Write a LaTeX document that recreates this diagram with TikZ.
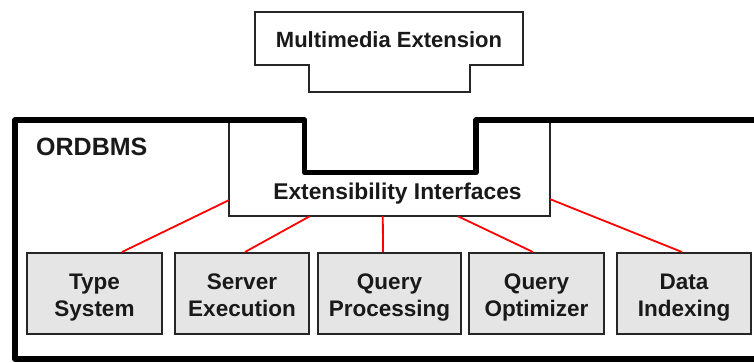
\documentclass[tikz,border=0pt]{standalone}
\usepackage{fontspec}
\setmainfont{Liberation Sans}
% equal line boxes for the two-line component labels
\newcommand\partTop{\rule{0pt}{24pt}}
\newcommand\partBot{\rule[-6pt]{0pt}{6pt}}
\begin{document}
\begin{tikzpicture}[x=1pt,y=-1pt,
  txt/.style={font=\bfseries\fontsize{22}{27}\selectfont, text=black!90, inner sep=0pt},
  part/.style={draw=black!85, line width=2pt, fill=black!10, minimum height=81pt,
    align=center, font=\bfseries\fontsize{22.5}{27}\selectfont, text=black!90, inner sep=0pt},
  frame/.style={line width=5.5pt, line join=round, black},
  link/.style={red, line width=1.8pt}]
\clip (0,0) rectangle (754,362);
\fill[white] (0,0) rectangle (754,362);

% extension module with its plug-in tab
\draw[black!85, line width=2pt, fill=white]
  (255,12) -- (523,12) -- (523,65) -- (470,65) -- (470,92) -- (309,92) -- (309,65) -- (255,65) -- cycle;
\node[txt, anchor=base] (mm) at (389,47) {Multimedia Extension};

% extensibility interfaces (top side formed by the socket of the frame)
\node[minimum width=321pt, minimum height=96pt, inner sep=0pt, fill=white] (ext) at (389.5,168) {};
\draw[black!85, line width=1.5pt] (ext.north west) |- (ext.south east) -- (ext.north east);
\node[txt, font=\bfseries\fontsize{22.8}{27}\selectfont, anchor=base] (exttxt) at (397.5,199) {Extensibility Interfaces};

% ORDBMS frame with its socket
\draw[frame] (15,120) -- (304.5,120) -- (304.5,172.5) -- (476,172.5) -- (476,120)
  -- (760,120) -- (760,359) -- (15,359) -- cycle;
\node[font=\bfseries\fontsize{25}{30}\selectfont, text=black!90, inner sep=0pt, anchor=base west]
  (ord) at (36,155) {ORDBMS};

% components
\node[part, minimum width=135pt] (ts) at (94.5,293.5) {\partTop Type\\System\partBot};
\node[part, minimum width=134pt] (se) at (242,293.5) {\partTop Server\\Execution\partBot};
\node[part, minimum width=143pt] (qp) at (389.5,293.5) {\partTop Query\\Processing\partBot};
\node[part, minimum width=135pt] (qo) at (536.5,293.5) {\partTop Query\\Optimizer\partBot};
\node[part, minimum width=134pt] (di) at (684,293.5) {\partTop Data\\Indexing\partBot};

% links from the interfaces to the components
\draw[link] ([yshift=16pt]ext.south west) -- ([xshift=27.5pt]ts.north);
\draw[link] ([xshift=81pt]ext.south west) -- ([xshift=3pt]se.north);
\draw[link] ([xshift=154pt]ext.south west) -- ([xshift=-6.5pt]qp.north);
\draw[link] ([xshift=229pt]ext.south west) -- ([xshift=-3.5pt]qo.north);
\draw[link] ([yshift=17pt]ext.south east) -- ([xshift=-2pt]di.north);
\end{tikzpicture}
\end{document}
